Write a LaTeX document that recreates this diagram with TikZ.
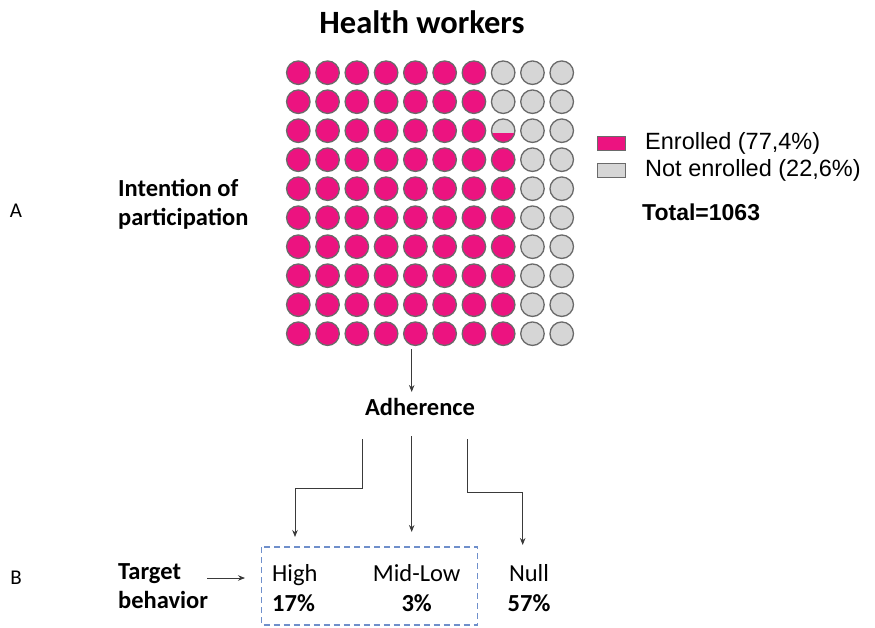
\documentclass[tikz,border=0pt]{standalone}
\usepackage{fontspec}
\setmainfont{Carlito}
\newfontfamily\arialf{Liberation Sans}
\usetikzlibrary{arrows.meta}
\definecolor{enpink}{HTML}{EC1380}
\definecolor{nogrey}{HTML}{D6D6D6}
\definecolor{dotedge}{HTML}{6A6A6A}
\definecolor{linegrey}{HTML}{3A3A3A}
\definecolor{dashblue}{HTML}{6F8FCB}
\begin{document}
\begin{tikzpicture}[x=1pt,y=-1pt,
  dot/.style={circle, draw=dotedge, line width=1.3pt, minimum size=23.5pt, inner sep=0pt},
  pinkdot/.style={dot, fill=enpink},
  greydot/.style={dot, fill=nogrey},
  halfdot/.style={dot, fill=nogrey, path picture={\fill[enpink] ([yshift=-2pt]path picture bounding box.west) rectangle (path picture bounding box.south east);}},
  arr/.style={-{Stealth[length=7pt,width=5.5pt]}, draw=linegrey, line width=0.8pt},
  lbl/.style={font=\bfseries\fontsize{24.5}{29}\selectfont, inner sep=0pt, align=left},
  leg/.style={font=\arialf\fontsize{23.5}{27}\selectfont, inner sep=0pt, anchor=west},
  val/.style={font=\fontsize{24.5}{30}\selectfont, inner sep=0pt, align=center},
  legbox/.style={draw=dotedge, line width=1pt, minimum width=28pt, minimum height=14pt, inner sep=0pt},
  side/.style={font=\fontsize{21}{25}\selectfont, inner sep=0pt}
]
\useasboundingbox (0,0) rectangle (875,627);

\node[font=\bfseries\fontsize{32.5}{36}\selectfont, inner sep=0pt] (title) at (422,22) {Health workers};

\foreach \j in {0,...,9}{
  \foreach \i in {0,...,9}{
    \pgfmathtruncatemacro\np{\j<3 ? 7 : 8}
    \pgfmathsetmacro\xx{298.3+29.27*\i}
    \pgfmathsetmacro\yy{72.7+29.0*\j}
    \ifnum\i<\np
      \node[pinkdot] (c-\i-\j) at (\xx,\yy) {};
    \else
      \ifnum\j=2 \ifnum\i=7
        \node[halfdot] (c-\i-\j) at (\xx,\yy) {};
      \else
        \node[greydot] (c-\i-\j) at (\xx,\yy) {};
      \fi
      \else
        \node[greydot] (c-\i-\j) at (\xx,\yy) {};
      \fi
    \fi
  }
}

% legend
\node[legbox, fill=enpink] (lp) at (611.5,143.5) {};
\node[legbox, fill=nogrey] (lg) at (611.5,170) {};
\node[leg] (lpt) at (645,143.5) {Enrolled (77,4\%)};
\node[leg] (lgt) at (645,170) {Not enrolled (22,6\%)};
\node[leg, font=\arialf\bfseries\fontsize{23}{27}\selectfont] (total) at (642,212) {Total=1063};

% side labels
\node[side] (A) at (16,211) {A};
\node[lbl, anchor=west] (intent) at (118,204) {Intention of\\participation};
\node[side] (B) at (16,578) {B};
\node[lbl, anchor=west] (target) at (118,586) {Target\\behavior};

% adherence
\coordinate (gridbot) at (411.7,349);
\node[lbl] (adh) at (420,407) {Adherence};
\draw[arr] (gridbot) -- (411.7,392);

\coordinate (s1) at (362.7,439);
\coordinate (s2) at (411.7,436);
\coordinate (s3) at (467.7,439);
\coordinate (e1) at (295,537);
\coordinate (e2) at (411.7,532);
\coordinate (e3) at (522.7,545);
\draw[arr] (s1) |- (295,488) -- (e1);
\draw[arr] (s2) -- (e2);
\draw[arr] (s3) |- (522.7,492) -- (e3);

% box
\draw[draw=dashblue, dash pattern=on 6pt off 4pt, line width=1.1pt] (261.7,547) rectangle (477.7,625);
\node[val, anchor=west, align=left] (high) at (272,588) {High\\\textbf{17\%}};
\node[val] (mid) at (416.7,588) {Mid-Low\\\textbf{3\%}};
\node[val] (null) at (529,588) {Null\\\textbf{57\%}};
\draw[arr] (207,578) -- (245,578);
\end{tikzpicture}
\end{document}
